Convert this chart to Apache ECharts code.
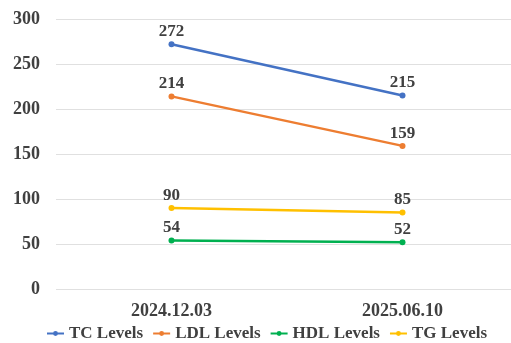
<!DOCTYPE html>
<html>
<head>
<meta charset="utf-8">
<script src="https://cdn.jsdelivr.net/npm/echarts@6/dist/echarts.min.js"></script>
<style>
html, body { margin: 0; padding: 0; background: #fff; }
#main { width: 511px; height: 343px; }
</style>
</head>
<body>
<div id="main"></div>
<script>
var dates = ['2024.12.03', '2025.06.10'];
var tcLevels = [272, 215];
var ldlLevels = [214, 159];
var hdlLevels = [54, 52];
var tgLevels = [90, 85];
var seriesNames = ['TC Levels', 'LDL Levels', 'HDL Levels', 'TG Levels'];
var seriesColors = ['#4472C4', '#ED7D31', '#00B050', '#FFC000'];

var font = 'Liberation Serif, Times New Roman, serif';

function makeSeries(name, data, color) {
	return {
		name: name,
		type: 'line',
		data: data,
		symbol: 'circle',
		symbolSize: 6,
		lineStyle: { color: color, width: 2.5 },
		itemStyle: { color: color },
		label: {
			show: true,
			position: 'top',
			distance: 1,
			color: '#404040',
			fontFamily: font,
			fontWeight: 'bold',
			fontSize: 17
		}
	};
}

var chart = echarts.init(document.getElementById('main'));
chart.setOption({
	animation: false,
	grid: { left: 56, width: 462, top: 19, bottom: 54, outerBoundsMode: 'none' },
	legend: {
		bottom: -4,
		left: 41,
		itemGap: 9,
		itemWidth: 17,
		itemHeight: 6,
		textStyle: { color: '#404040', fontFamily: font, fontWeight: 'bold', fontSize: 17 },
		data: seriesNames
	},
	xAxis: {
		type: 'category',
		data: dates,
		axisLine: { show: false },
		axisTick: { show: false },
		axisLabel: { color: '#404040', fontFamily: font, fontWeight: 'bold', fontSize: 18, margin: 13 }
	},
	yAxis: {
		type: 'value',
		min: 0,
		max: 300,
		interval: 50,
		axisLine: { show: false },
		axisTick: { show: false },
		splitLine: { lineStyle: { color: '#e0e0e0', width: 1 } },
		axisLabel: { color: '#404040', fontFamily: font, fontWeight: 'bold', fontSize: 18, margin: 16 }
	},
	series: [
		makeSeries(seriesNames[0], tcLevels, seriesColors[0]),
		makeSeries(seriesNames[1], ldlLevels, seriesColors[1]),
		makeSeries(seriesNames[2], hdlLevels, seriesColors[2]),
		makeSeries(seriesNames[3], tgLevels, seriesColors[3])
	]
});
</script>
</body>
</html>
